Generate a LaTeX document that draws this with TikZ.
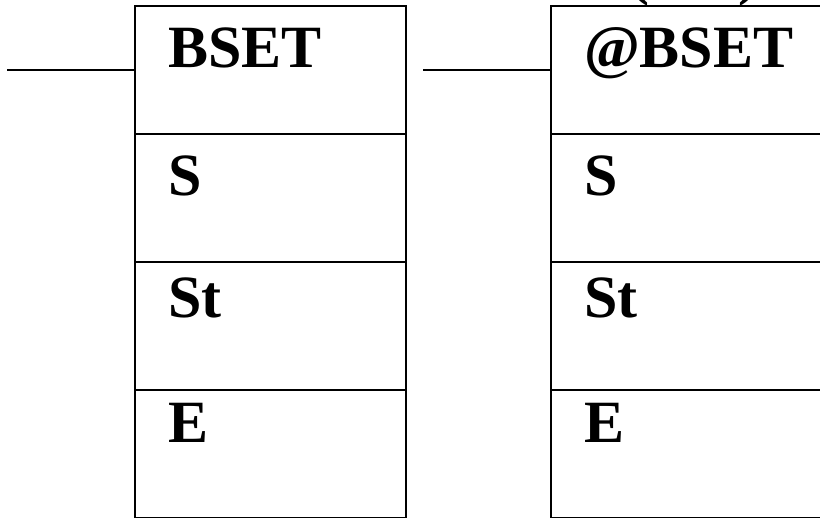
\documentclass[tikz,border=0pt]{standalone}
\usepackage{fontspec}
\setmainfont{Liberation Serif}
\usetikzlibrary{positioning}

\begin{document}
\begin{tikzpicture}[x=1pt, y=-1pt, line width=2pt,
  cell/.style={draw, rectangle, minimum width=271pt, minimum height=128pt, inner sep=0pt, outer sep=0pt},
  lbl/.style={anchor=base west, inner sep=0pt, font=\fontsize{60}{72}\selectfont\bfseries}]
  \useasboundingbox (0,0) rectangle (820,518);
  % left block
  \node[cell] (a1) at (270.5,70) {};
  \node[cell, below=0pt of a1] (a2) {};
  \node[cell, below=0pt of a2] (a3) {};
  \node[cell, below=0pt of a3] (a4) {};
  \node[lbl] (ta1) at (167,68) {BSET};  \node[lbl] (ta2) at (167,196) {S};
  \node[lbl] (ta3) at (167,318) {St};   \node[lbl] (ta4) at (167,443) {E};
  \coordinate (ina) at (7,70);
  \draw (ina) -- (a1.west);
  % right block
  \node[cell] (b1) at (686.5,70) {};
  \node[cell, below=0pt of b1] (b2) {};
  \node[cell, below=0pt of b2] (b3) {};
  \node[cell, below=0pt of b3] (b4) {};
  \node[lbl] (tb1) at (583,68) {@BSET}; \node[lbl] (tb2) at (583,196) {S};
  \node[lbl] (tb3) at (583,318) {St};   \node[lbl] (tb4) at (583,443) {E};
  \coordinate (inb) at (423,70);
  \draw (inb) -- (b1.west);
  % brackets cut off at the top
  \node[lbl] (pl) at (628,-6) {(};
  \node[lbl] (pr) at (737,-6) {)};
\end{tikzpicture}
\end{document}
